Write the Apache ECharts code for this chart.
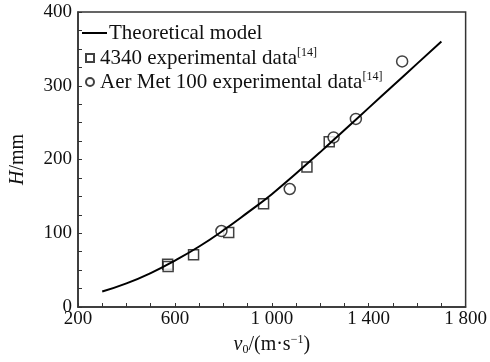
<!DOCTYPE html>
<html><head><meta charset="utf-8">
<script src="https://cdn.jsdelivr.net/npm/echarts@6/dist/echarts.min.js"></script>
<style>html,body{margin:0;padding:0;background:#fff}#c{width:490px;height:362px}</style>
</head><body><div id="c"></div>
<script>
// Theoretical model curve
const modelV = [300, 400, 500, 600, 700, 800, 900, 1000, 1100, 1200, 1300, 1400, 1500, 1600, 1700];
const modelH = [21, 32, 46, 63, 82, 104, 128, 153, 181, 210, 240, 270, 300, 330, 360];
// 4340 experimental data
const v4340 = [570, 572, 677, 822, 966, 1145, 1237];
const h4340 = [58, 55, 71, 101, 140, 190, 224];
// AerMet 100 experimental data
const vAer = [792, 1074, 1255, 1347, 1538];
const hAer = [103, 160, 230, 255, 333];
// tick labels
const xTickValues = [200, 600, 1000, 1400, 1800];
const xTickLabels = ['200', '600', '1 000', '1 400', '1 800'];
const yTickValues = [0, 100, 200, 300, 400];
const yTickLabels = ['0', '100', '200', '300', '400'];

const FONT = 'Liberation Serif';
const zip = (a, b) => a.map((v, i) => [v, b[i]]);
const chart = echarts.init(document.getElementById('c'), null, {renderer: 'canvas'});
const legendRich = {
  t: {fontFamily: FONT, fontSize: 21, color: '#111', lineHeight: 22},
  s: {fontFamily: FONT, fontSize: 12, color: '#111', verticalAlign: 'top', padding: [0, 0, 10, 0], lineHeight: 22}
};
chart.setOption({
  animation: false,
  backgroundColor: '#fff',
  grid: {left: 72, right: 24, top: 12, bottom: 55, show: true, borderColor: '#333', borderWidth: 1.5, backgroundColor: 'transparent'},
  legend: [
    {
      data: [{name: 'Theoretical model', icon: 'rect'}], orient: 'vertical', left: 82, top: 22, padding: 0,
      itemWidth: 25, itemHeight: 2, itemGap: 1,
      itemStyle: {color: '#000'},
      textStyle: {fontFamily: FONT, fontSize: 21, color: '#111', lineHeight: 22, padding: [0, 0, 0, -3]}
    },
    {
      data: ['4340 experimental data', 'Aer Met 100 experimental data'], orient: 'vertical', left: 85, top: 47, padding: 0,
      itemWidth: 8, itemHeight: 8, itemGap: 2,
      formatter: n => '{t|' + n + '}{s|[14]}',
      textStyle: {rich: legendRich, padding: [0, 0, 0, 1]}
    }
  ],
  xAxis: {
    type: 'value', min: 200, max: 1800, interval: 400,
    axisLine: {lineStyle: {color: '#333', width: 1.5}},
    axisTick: {inside: true, length: 4, lineStyle: {color: '#333'}},
    minorTick: {show: true, splitNumber: 4, length: 4, lineStyle: {color: '#333'}},
    splitLine: {show: false},
    axisLabel: {
      fontFamily: FONT, fontSize: 19, color: '#111', margin: 3,
      formatter: v => xTickLabels[xTickValues.indexOf(v)]
    },
    name: '{i|v}{sub|0}{t|/(m·s}{sup|−1}{t|)}', nameLocation: 'middle', nameGap: 26,
    nameTextStyle: {
      rich: {
        i: {fontFamily: FONT, fontSize: 20, fontStyle: 'italic', color: '#111'},
        t: {fontFamily: FONT, fontSize: 20, color: '#111'},
        sub: {fontFamily: FONT, fontSize: 12, color: '#111', verticalAlign: 'bottom', padding: [10, 0, 0, 0]},
        sup: {fontFamily: FONT, fontSize: 12, color: '#111', verticalAlign: 'top', padding: [0, 0, 8, 0]}
      }
    }
  },
  yAxis: {
    type: 'value', min: 0, max: 400, interval: 100,
    axisLine: {lineStyle: {color: '#333', width: 1.5}},
    axisTick: {inside: true, length: 4, lineStyle: {color: '#333'}},
    minorTick: {show: true, splitNumber: 4, length: 4, lineStyle: {color: '#333'}},
    splitLine: {show: false},
    axisLabel: {
      fontFamily: FONT, fontSize: 19, color: '#111', margin: 6,
      formatter: v => yTickLabels[yTickValues.indexOf(v)]
    },
    name: '{i|H}{t|/mm}', nameLocation: 'middle', nameGap: 50, nameRotate: 90,
    nameTextStyle: {
      rich: {
        i: {fontFamily: FONT, fontSize: 20, fontStyle: 'italic', color: '#111'},
        t: {fontFamily: FONT, fontSize: 20, color: '#111'}
      }
    }
  },
  series: [
    {
      name: 'Theoretical model', type: 'line', data: zip(modelV, modelH), smooth: true,
      showSymbol: false, symbol: 'none', lineStyle: {color: '#000', width: 2}, itemStyle: {color: '#000'}
    },
    {
      name: '4340 experimental data', type: 'scatter', data: zip(v4340, h4340),
      symbol: 'rect', symbolSize: 10,
      itemStyle: {color: '#fff', borderColor: '#111', borderWidth: 1.5}
    },
    {
      name: 'Aer Met 100 experimental data', type: 'scatter', data: zip(vAer, hAer),
      symbol: 'circle', symbolSize: 11,
      itemStyle: {color: '#fff', borderColor: '#111', borderWidth: 1.5}
    }
  ]
});
</script></body></html>
